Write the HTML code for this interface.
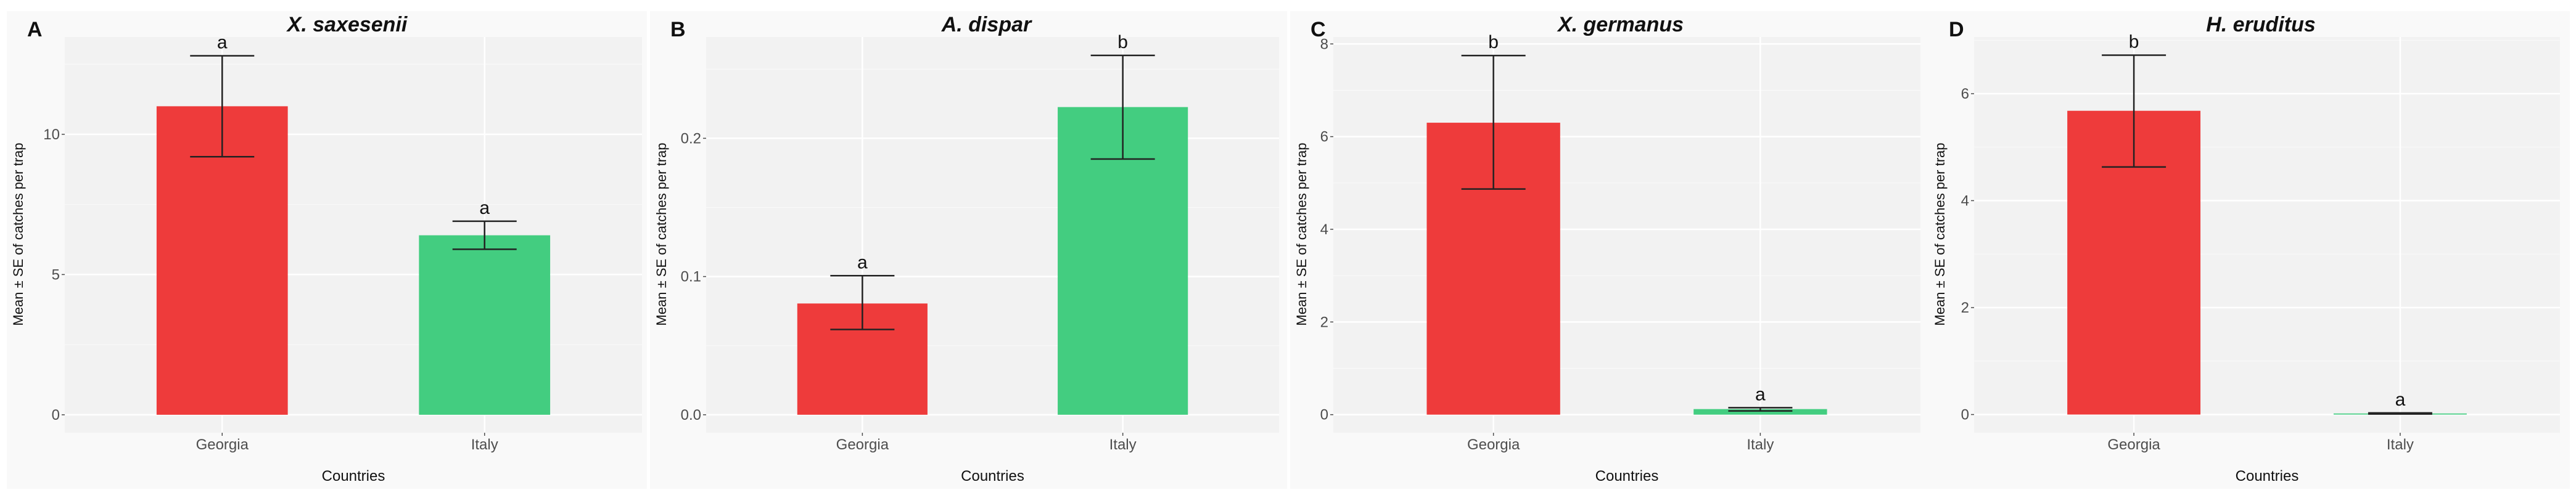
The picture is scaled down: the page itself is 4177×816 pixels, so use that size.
<!DOCTYPE html>
<html><head><meta charset="utf-8">
<style>
html,body{margin:0;padding:0;background:#fff;}
svg{display:block;}
text{font-family:"Liberation Sans",sans-serif;}
</style></head>
<body>
<svg id="fig" width="4177" height="816" viewBox="0 0 4177 816" xmlns="http://www.w3.org/2000/svg">
<rect x="0" y="0" width="4177" height="816" fill="#ffffff"/>
</svg>
<script>
const categories = ["Georgia", "Italy"];
const panelLetters = ["A", "B", "C", "D"];
const speciesTitles = ["X. saxesenii", "A. dispar", "X. germanus", "H. eruditus"];
const meansA = [11.0, 6.4];
const seLowA = [9.2, 5.9];
const seHighA = [12.8, 6.9];
const lettersA = ["a", "a"];
const ticksA = [0, 5, 10];
const tickLabelsA = ["0", "5", "10"];
const meansB = [0.0805, 0.2226];
const seLowB = [0.0617, 0.185];
const seHighB = [0.1006, 0.26];
const lettersB = ["a", "b"];
const ticksB = [0, 0.1, 0.2];
const tickLabelsB = ["0.0", "0.1", "0.2"];
const meansC = [6.3, 0.12];
const seLowC = [4.87, 0.08];
const seHighC = [7.75, 0.15];
const lettersC = ["b", "a"];
const ticksC = [0, 2, 4, 6, 8];
const tickLabelsC = ["0", "2", "4", "6", "8"];
const meansD = [5.68, 0.02];
const seLowD = [4.63, 0.01];
const seHighD = [6.72, 0.03];
const lettersD = ["b", "a"];
const ticksD = [0, 2, 4, 6];
const tickLabelsD = ["0", "2", "4", "6"];
const domainTop = [13.47, 0.2733, 8.15, 7.06];
const domainBottom = [-0.64, -0.013, -0.39, -0.34];

const NS = "http://www.w3.org/2000/svg";
const svg = document.getElementById("fig");
function mk(tag, attrs, parent) {
  const e = document.createElementNS(NS, tag);
  for (const k in attrs) e.setAttribute(k, attrs[k]);
  (parent || svg).appendChild(e);
  return e;
}
const layout = [
  {bx:11, bw:1038, px:105, pw:936},
  {bx:1054, bw:1033, px:1145, pw:929},
  {bx:2092, bw:1035, px:2162, pw:952},
  {bx:3127, bw:1040, px:3201, pw:950}
];
const dataSets = [
  [meansA, seLowA, seHighA, lettersA, ticksA, tickLabelsA],
  [meansB, seLowB, seHighB, lettersB, ticksB, tickLabelsB],
  [meansC, seLowC, seHighC, lettersC, ticksC, tickLabelsC],
  [meansD, seLowD, seHighD, lettersD, ticksD, tickLabelsD]
];
const colors = ["#EE3B3B", "#43CD80"];
const PT = 60, PB = 702;

dataSets.forEach((ds, i) => {
  const [means, lo, hi, lets, ticks, tlabels] = ds;
  const L = layout[i];
  const g = mk("g", {});
  
  
  const y = v => PB - (v - domainBottom[i]) / (domainTop[i] - domainBottom[i]) * (PB - PT);
  const span = categories.length + 0.2;
  const xc = j => L.px + L.pw * (j + 0.6) / span;
  const bw = 0.5 * L.pw / span;

  const bg = mk("rect", {x:L.bx, y:18, width:L.bw, height:775, fill:"#f9f9f9"}, g);
  
  
  const pa = mk("rect", {x:L.px, y:PT, width:L.pw, height:PB-PT, fill:"#f2f2f2"}, g);
  
  

  for (let t = 0; t < ticks.length; t++) {
    const step = ticks.length > 1 ? ticks[1] - ticks[0] : 1;
    const mv = ticks[t] + step / 2;
    if (y(mv) > PT) {
      const ml = mk("line", {x1:L.px, x2:L.px+L.pw, y1:y(mv), y2:y(mv), stroke:"#fafafa", "stroke-width":1}, g);
      
      
    }
  }
  ticks.forEach((t, k) => {
    const gl = mk("line", {x1:L.px, x2:L.px+L.pw, y1:y(t), y2:y(t), stroke:"#ffffff", "stroke-width":2.5}, g);
    
    
    const tk = mk("line", {x1:L.px-5, x2:L.px, y1:y(t), y2:y(t), stroke:"#4d4d4d", "stroke-width":1.5}, g);
    
    
    const tl = mk("text", {x:L.px-8, y:y(t)+8, "text-anchor":"end", "font-size":24, fill:"#4d4d4d"}, g);
    tl.textContent = tlabels[k];
    
    
  });
  categories.forEach((c, j) => {
    const cx = xc(j);
    const vl = mk("line", {x1:cx, x2:cx, y1:PT, y2:PB, stroke:"#ffffff", "stroke-width":2.5}, g);
    
    
  });
  categories.forEach((c, j) => {
    const cx = xc(j);
    const top = Math.min(y(means[j]), y(0)), h = Math.abs(y(0) - y(means[j]));
    const bar = mk("rect", {x:cx-bw/2, y:top, width:bw, height:Math.max(h,1), fill:colors[j]}, g);
    
    
    const eb = mk("path", {d:`M${cx-52},${y(hi[j])}H${cx+52}M${cx},${y(hi[j])}V${y(lo[j])}M${cx-52},${y(lo[j])}H${cx+52}`, stroke:"#222", "stroke-width":2.5, fill:"none"}, g);
    
    
    const sl = mk("text", {x:cx, y:y(hi[j])-12, "text-anchor":"middle", "font-size":30, fill:"#111"}, g);
    sl.textContent = lets[j];
    
    
    const xt = mk("line", {x1:cx, x2:cx, y1:PB, y2:PB+5, stroke:"#4d4d4d", "stroke-width":1.5}, g);
    
    
    const xl = mk("text", {x:cx, y:729, "text-anchor":"middle", "font-size":24, fill:"#4d4d4d"}, g);
    xl.textContent = c;
    
    
  });
  const xtitle = mk("text", {x:L.px + L.pw/2, y:780, "text-anchor":"middle", "font-size":24, fill:"#111"}, g);
  xtitle.textContent = "Countries";
  
  
  const ytx = L.bx + 26, yty = 380;
  const ytitle = mk("text", {x:ytx, y:yty, transform:`rotate(-90 ${ytx} ${yty})`, "text-anchor":"middle", "font-size":22, fill:"#111"}, g);
  ytitle.textContent = "Mean ± SE of catches per trap";
  
  
  const title = mk("text", {x:L.px + L.pw/2 - 10, y:51, "text-anchor":"middle", "font-size":34, "font-weight":"bold", "font-style":"italic", fill:"#111"}, g);
  title.textContent = speciesTitles[i];
  
  
  const pl = mk("text", {x:L.bx + 33, y:59, "font-size":34, "font-weight":"bold", fill:"#111"}, g);
  pl.textContent = panelLetters[i];
  
  
});
</script>
</body></html>
